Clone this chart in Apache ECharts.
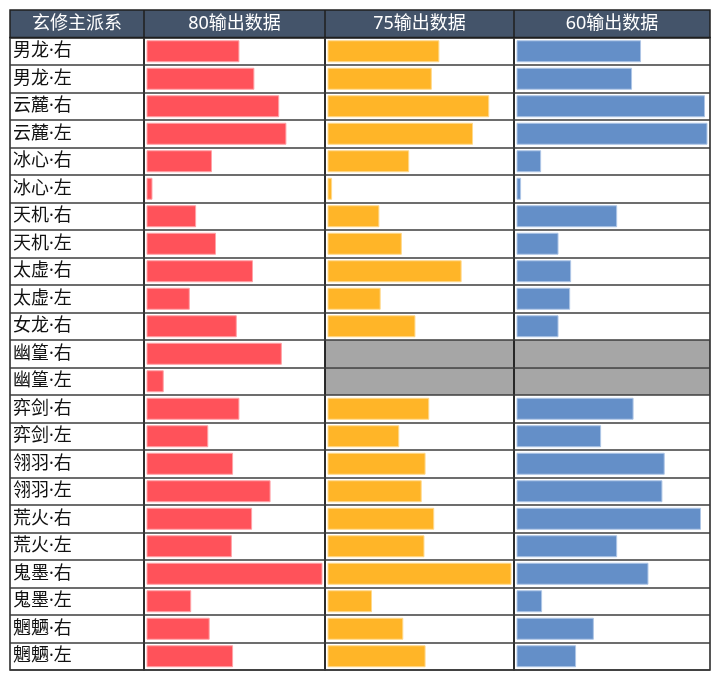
<!DOCTYPE html>
<html>
<head>
<meta charset="utf-8">
<script src="https://cdn.jsdelivr.net/npm/echarts@6/dist/echarts.min.js"></script>
<style>
    html, body { margin: 0; padding: 0; background: #fff; }
    #main { width: 720px; height: 682px; }
</style>
</head>
<body>
<div id="main"></div>
<script>
// 行：玄修主派系
var categories = ['男龙·右', '男龙·左', '云麓·右', '云麓·左', '冰心·右', '冰心·左',
    '天机·右', '天机·左', '太虚·右', '太虚·左', '女龙·右', '幽篁·右', '幽篁·左',
    '弈剑·右', '弈剑·左', '翎羽·右', '翎羽·左', '荒火·右', '荒火·左',
    '鬼墨·右', '鬼墨·左', '魍魉·右', '魍魉·左'];
// 各列数值（按图读出，相对每列最大值的百分比）
var data80 = [52.8, 61.3, 75.4, 79.5, 37.2, 3.4, 28.2, 39.5, 60.5, 24.6, 51.3, 76.9, 9.8,
    52.8, 35.1, 49.2, 70.5, 60.0, 48.5, 100, 25.4, 35.9, 49.2];
var data75 = [60.8, 56.7, 87.9, 79.1, 44.4, 2.5, 28.2, 40.4, 72.9, 28.9, 47.8, null, null,
    55.3, 39.0, 53.3, 51.2, 58.0, 52.7, 100, 24.2, 41.2, 53.3];
var data60 = [65.2, 60.5, 98.7, 100, 12.9, 2.4, 52.7, 22.0, 28.6, 28.1, 22.0, null, null,
    61.3, 44.3, 77.6, 76.4, 96.6, 52.7, 69.1, 13.4, 40.5, 31.2];
var headers = ['玄修主派系', '80输出数据', '75输出数据', '60输出数据'];

var barColors = ['#FF525A', '#FFB528', '#648FC8'];
var barBorders = ['#FFA3A7', '#FFD98C', '#AEC6E6'];
var missingColor = '#A6A6A6';
var lineColor = '#1f1f1f';
// 拉丁字体在前，让“·”保持半角宽度
var fontFamily = '"Noto Sans", "Noto Sans CJK SC", sans-serif';

var chart = echarts.init(document.getElementById('main'));

var tableTop = 10, headH = 27.5, bodyTop = 37.5, bodyH = 632.5;
var colEdges = [10, 144, 325, 514, 710];
var pad = 2.5;
var columns = [data80, data75, data60];

var grids = [], xAxes = [], yAxes = [], series = [], graphics = [];

// 表格框线（每列一个 grid）
for (var i = 0; i < 4; i++) {
    grids.push({
        left: colEdges[i], top: bodyTop,
        width: colEdges[i + 1] - colEdges[i], height: bodyH,
        show: true, borderColor: lineColor, borderWidth: 1.5,
        backgroundColor: 'transparent', z: 4
    });
    xAxes.push({ type: 'value', gridIndex: i, min: 0, max: 1, show: false });
    yAxes.push({
        type: 'category', gridIndex: i, data: categories, inverse: true, z: 4,
        axisLine: { show: false }, axisTick: { show: false },
        axisLabel: {
            show: i === 0, align: 'left', margin: -3,
            fontSize: 18, color: '#111', fontFamily: fontFamily
        },
        splitLine: { show: true, lineStyle: { color: '#3c3c3c', width: 1.5 } }
    });
}

// 缺失数据的灰色单元格
for (var c = 0; c < 3; c++) {
    var col = columns[c];
    series.push({
        type: 'bar', xAxisIndex: c + 1, yAxisIndex: c + 1, barWidth: '100%',
        silent: true, itemStyle: { color: missingColor },
        data: col.map(function (v) { return v == null ? 1 : null; })
    });
}

// 数据条
for (var j = 0; j < 3; j++) {
    var gi = grids.length;
    grids.push({
        left: colEdges[j + 1] + pad, top: bodyTop,
        width: colEdges[j + 2] - colEdges[j + 1] - 2 * pad, height: bodyH
    });
    xAxes.push({ type: 'value', gridIndex: gi, min: 0, max: 'dataMax', show: false });
    yAxes.push({ type: 'category', gridIndex: gi, data: categories, inverse: true, show: false });
    series.push({
        type: 'bar', xAxisIndex: gi, yAxisIndex: gi, barWidth: 22,
        itemStyle: { color: barColors[j], borderColor: barBorders[j], borderWidth: 1 },
        data: columns[j]
    });
}

// 表头
graphics.push({
    type: 'rect', z: 10,
    shape: { x: colEdges[0], y: tableTop, width: colEdges[4] - colEdges[0], height: headH },
    style: { fill: '#44546A', stroke: lineColor, lineWidth: 1.5 }
});
for (var k = 0; k < 4; k++) {
    if (k > 0) {
        graphics.push({
            type: 'line', z: 11,
            shape: { x1: colEdges[k], y1: tableTop, x2: colEdges[k], y2: bodyTop },
            style: { stroke: lineColor, lineWidth: 1.5 }
        });
    }
    graphics.push({
        type: 'text', z: 12,
        x: (colEdges[k] + colEdges[k + 1]) / 2, y: tableTop + headH / 2 + 0.5,
        style: {
            text: headers[k], fill: '#fff', fontSize: 18, fontFamily: fontFamily,
            align: 'center', verticalAlign: 'middle'
        }
    });
}

chart.setOption({
    animation: false,
    backgroundColor: '#fff',
    grid: grids,
    xAxis: xAxes,
    yAxis: yAxes,
    series: series,
    graphic: graphics
});
</script>
</body>
</html>
